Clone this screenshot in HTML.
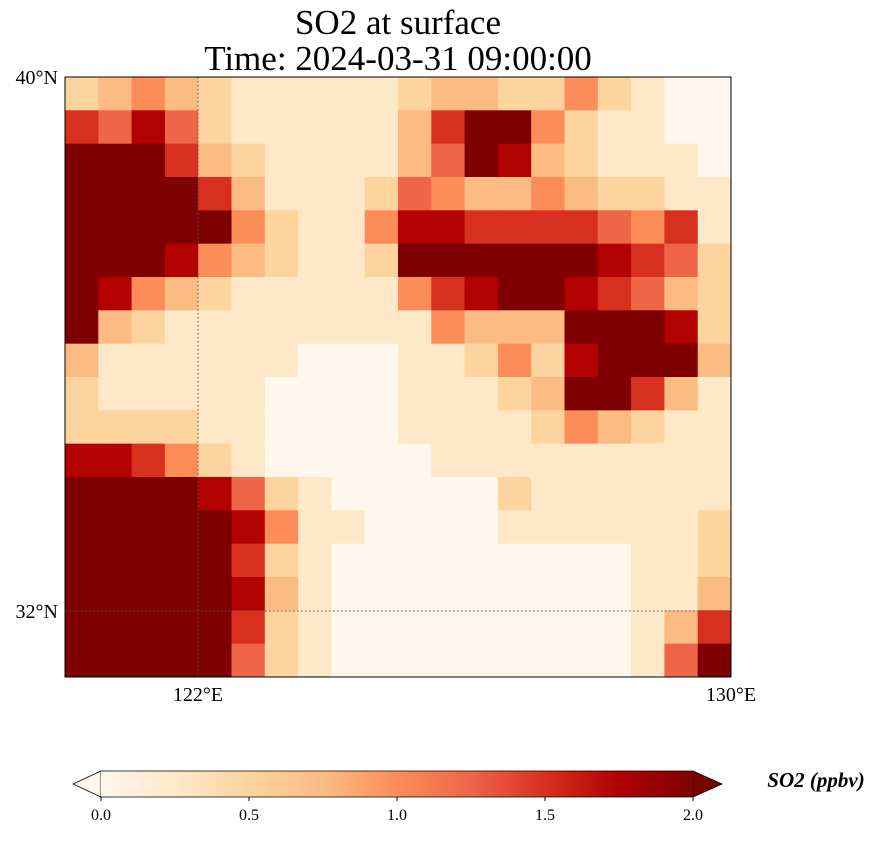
<!DOCTYPE html>
<html><head><meta charset="utf-8">
<style>
html,body{margin:0;padding:0;background:#fff;}
body{width:875px;height:836px;overflow:hidden;font-family:"Liberation Serif",serif;}
</style></head>
<body>
<svg id="chart" width="875" height="836" xmlns="http://www.w3.org/2000/svg" font-family="Liberation Serif, serif">
  <text x="398" y="34" font-size="35" text-anchor="middle">SO2 at surface</text>
  <text x="398" y="70" font-size="35" text-anchor="middle">Time: 2024-03-31 09:00:00</text>
  <g id="cells"></g>
  <line x1="198" y1="77" x2="198" y2="677" stroke="#555" stroke-width="1" stroke-dasharray="1.5,2.5"/>
  <line x1="65" y1="611" x2="731" y2="611" stroke="#555" stroke-width="1" stroke-dasharray="1.5,2.5"/>
  <rect x="65" y="77" width="666" height="600" fill="none" stroke="#000" stroke-width="1"/>
  <text x="58" y="84" font-size="20" text-anchor="end">40°N</text>
  <text x="58" y="618" font-size="20" text-anchor="end">32°N</text>
  <text x="198" y="701" font-size="20" text-anchor="middle">122°E</text>
  <text x="731" y="701" font-size="20" text-anchor="middle">130°E</text>
  <defs>
    <linearGradient id="cbg" x1="0" x2="1" y1="0" y2="0">
      <stop offset="0" stop-color="#fff7ec"/><stop offset="0.125" stop-color="#fee8c8"/>
      <stop offset="0.25" stop-color="#fdd49e"/><stop offset="0.375" stop-color="#fdbb84"/>
      <stop offset="0.5" stop-color="#fc8d59"/><stop offset="0.625" stop-color="#ef6548"/>
      <stop offset="0.75" stop-color="#d7301f"/><stop offset="0.875" stop-color="#b30000"/>
      <stop offset="1" stop-color="#7f0000"/>
    </linearGradient>
  </defs>
  <g>
    <polygon points="101,771 73,784 101,797" fill="#fff7ec" stroke="#000" stroke-width="0.8"/>
    <polygon points="693,771 722,784 693,797" fill="#7f0000" stroke="#000" stroke-width="0.8"/>
    <rect x="101" y="771" width="592" height="26" fill="url(#cbg)"/>
    <path d="M101,771 L693,771 M101,797 L693,797" stroke="#000" stroke-width="0.8"/>
    <g id="cbticks"></g>
  </g>
  <text x="816" y="787" font-size="21" font-weight="bold" font-style="italic" text-anchor="middle">SO2 (ppbv)</text>
</svg>
<script>
// SO2 grid values in steps of 0.25 ppbv (digit d => d*0.25), 0.5° cells, rows north->south from 40N, cols west->east from 120E
const rows = [
 "23432111112332242100",
 "65752111113688421100",
 "88863211113587321110",
 "88886311125433432211",
 "88888421147766665461",
 "88874321128888887652",
 "87432111114678876532",
 "83211111111433388872",
 "31111110001124278883",
 "21111100001112388631",
 "22221100001111243211",
 "77642100000111111111",
 "88887521000002111111",
 "88888741100001111112",
 "88888621000000000112",
 "88888731000000000113",
 "88888621000000000136",
 "88888521000000000158"
];
const colorStops = ["#fff7ec","#fee8c8","#fdd49e","#fdbb84","#fc8d59","#ef6548","#d7301f","#b30000","#7f0000"];
const cbTicks = [0.0, 0.5, 1.0, 1.5, 2.0];
const cbTickLabels = ["0.0","0.5","1.0","1.5","2.0"];

const NS = "http://www.w3.org/2000/svg";
const lonMin=120, lonMax=130, latMin=31, latMax=40;
const xScale = lon => 65 + (lon-lonMin)/(lonMax-lonMin)*666;
const yScale = lat => 77 + (latMax-lat)/(latMax-latMin)*600;
const cbScale = v => 101 + v/2*592;
const colorFor = v => colorStops[Math.max(0,Math.min(8,Math.round(v/0.25)))];

const g = document.getElementById("cells");
rows.forEach((row, j) => {
  for (let i=0;i<row.length;i++){
    const v = parseInt(row[i],10)*0.25;
    const lon0 = lonMin + i*0.5, lat0 = latMax - j*0.5;
    const x = xScale(lon0), y = yScale(lat0);
    const r = document.createElementNS(NS,"rect");
    r.setAttribute("x", x);
    r.setAttribute("y", y);
    r.setAttribute("width", xScale(lon0+0.5)-x+0.5);
    r.setAttribute("height", yScale(lat0-0.5)-y+0.5);
    r.setAttribute("fill", colorFor(v));
    
    
    g.appendChild(r);
  }
});

const tg = document.getElementById("cbticks");
cbTicks.forEach((v,k) => {
  const x = cbScale(v);
  const l = document.createElementNS(NS,"line");
  l.setAttribute("x1",x); l.setAttribute("x2",x);
  l.setAttribute("y1",797); l.setAttribute("y2",801);
  l.setAttribute("stroke","#000");
  
  
  tg.appendChild(l);
  const t = document.createElementNS(NS,"text");
  t.setAttribute("x",x); t.setAttribute("y",820);
  t.setAttribute("font-size","16"); t.setAttribute("text-anchor","middle");
  t.textContent = cbTickLabels[k];
  
  
  tg.appendChild(t);
});
</script>
</body></html>
